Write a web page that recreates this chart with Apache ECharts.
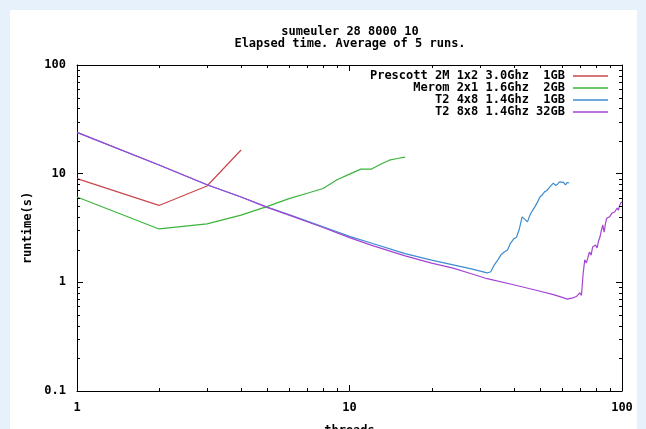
<!DOCTYPE html>
<html><head><meta charset="utf-8">
<script src="https://cdn.jsdelivr.net/npm/echarts@6/dist/echarts.min.js"></script>
<style>html,body{margin:0;padding:0;background:#e7f1fc}#c{width:646px;height:429px}</style>
</head><body><div id="c"></div>
<script>
const FONT = '"DejaVu Sans Mono", "Liberation Mono", monospace';
const titleLines = ['sumeuler 28 8000 10', 'Elapsed time. Average of 5 runs.'];
const xAxisName = 'threads';
const yAxisName = 'runtime(s)';
const seriesNames = ['Prescott 2M 1x2 3.0Ghz  1GB', 'Merom 2x1 1.6Ghz  2GB', 'T2 4x8 1.4Ghz  1GB', 'T2 8x8 1.4Ghz 32GB'];
const seriesColors = ['#c8484c', '#3cb43c', '#3c8cd2', '#a444d4'];

const threadsPrescott = [1, 2, 3, 4];
const runtimePrescott = [9.0, 5.1, 7.7, 16.5];

const threadsMerom = [1, 2, 3, 4, 5, 6, 7, 8, 9, 10, 11, 12, 13, 14, 15, 16];
const runtimeMerom = [6.1, 3.1, 3.45, 4.15, 5.0, 5.9, 6.6, 7.3, 8.8, 9.9, 11.0, 11.0, 12.2, 13.3, 13.8, 14.2];

const threadsT2a = [1, 2, 3, 4, 5, 6, 8, 10, 12, 16, 20, 24, 28, 32, 33, 34, 35, 36, 37, 38, 39, 40, 41, 42, 43, 44, 45, 46, 47, 48, 49, 50, 51, 52, 53, 54, 55, 56, 57, 58, 59, 60, 61, 62, 63, 64];
const runtimeT2a = [24, 12, 7.9, 6.1, 4.9, 4.2, 3.25, 2.65, 2.3, 1.84, 1.6, 1.45, 1.33, 1.22, 1.25, 1.45, 1.6, 1.8, 1.9, 1.98, 2.3, 2.5, 2.6, 3.1, 4.0, 3.8, 3.6, 4.2, 4.6, 5.0, 5.5, 6.1, 6.4, 6.8, 7.0, 7.4, 7.8, 8.2, 7.8, 8.0, 8.4, 8.7, 8.3, 7.9, 8.3, 8.2];

const threadsT2b = [1, 2, 3, 4, 5, 6, 8, 10, 12, 16, 20, 24, 28, 32, 40, 48, 56, 60, 63, 64, 66, 68, 69, 70, 71, 72, 73, 74, 75, 76, 77, 78, 79, 80, 81, 82, 83, 84, 85, 86, 87, 88, 89, 90, 91, 92, 93, 94, 95, 96, 97, 98, 99, 100];
const runtimeT2b = [24, 12, 7.9, 6.1, 4.9, 4.15, 3.2, 2.58, 2.2, 1.75, 1.5, 1.35, 1.2, 1.08, 0.95, 0.85, 0.77, 0.73, 0.70, 0.71, 0.72, 0.74, 0.73, 0.80, 0.76, 1.2, 1.61, 1.51, 1.7, 1.9, 1.78, 2.11, 2.05, 2.2, 2.07, 2.4, 2.61, 3.0, 3.37, 2.9, 3.5, 3.91, 3.8, 4.0, 4.1, 4.35, 4.2, 4.44, 4.3, 4.83, 4.6, 5.1, 5.37, 5.5];

const xMinorTicks = [2, 3, 4, 5, 6, 7, 8, 9, 20, 30, 40, 50, 60, 70, 80, 90];
const yMinorTicks = [0.2, 0.3, 0.4, 0.5, 0.6, 0.7, 0.8, 0.9, 2, 3, 4, 5, 6, 7, 8, 9, 20, 30, 40, 50, 60, 70, 80, 90];
const xRange = [1, 100];
const yRange = [0.1, 100];

(function () {
const xs = [threadsPrescott, threadsMerom, threadsT2a, threadsT2b];
const ys = [runtimePrescott, runtimeMerom, runtimeT2a, runtimeT2b];

const textBase = { fontFamily: FONT, fontWeight: 'bold', fontSize: 12, color: '#000' };

const axisCommon = {
  axisLine: { show: true, lineStyle: { color: '#000', width: 1 } },
  axisTick: { show: true, inside: true, length: 6, lineStyle: { color: '#000', width: 1 } },
  splitLine: { show: false },
  minorTick: { show: false }
};

const series = seriesNames.map((name, i) => ({
  name: name, type: 'line', symbol: 'none', xAxisIndex: 0, yAxisIndex: 0,
  lineStyle: { color: seriesColors[i], width: 1.2 },
  itemStyle: { color: seriesColors[i] },
  data: xs[i].map((x, j) => [x, ys[i][j]]),
  z: 3 + i
}));

const chart = echarts.init(document.getElementById('c'), null, { renderer: 'canvas' });
chart.setOption({
  animation: false,
  backgroundColor: '#e7f1fc',
  graphic: { elements: [
    { id: 'panel', type: 'rect', z: -100, silent: true, shape: { x: 10, y: 10, width: 627, height: 430 }, style: { fill: '#ffffff' } },
    { id: 't1', type: 'text', silent: true, x: 350, y: 32, style: { text: titleLines[0], textAlign: 'center', textVerticalAlign: 'middle', font: 'bold 12px ' + FONT, fill: '#000' } },
    { id: 't2', type: 'text', silent: true, x: 350, y: 44, style: { text: titleLines[1], textAlign: 'center', textVerticalAlign: 'middle', font: 'bold 12px ' + FONT, fill: '#000' } }
  ] },
  grid: { left: 77, right: 24, top: 65, bottom: 38, containLabel: false, outerBoundsMode: 'none' },
  legend: {
    orient: 'vertical', right: 38, top: 70, align: 'right', padding: 0,
    itemWidth: 35, itemHeight: 1.5, itemGap: 0, icon: 'rect',
    textStyle: Object.assign({ lineHeight: 12, padding: [0, 3, 0, 0] }, textBase),
    formatter: n => n.padStart(27, ' '),
    data: seriesNames
  },
  xAxis: [
    Object.assign({}, axisCommon, {
      type: 'log', logBase: 10, min: xRange[0], max: xRange[1], position: 'bottom',
      axisLabel: Object.assign({ margin: 11 }, textBase),
      name: xAxisName, nameLocation: 'middle', nameGap: 34, nameTextStyle: textBase
    }),
    Object.assign({}, axisCommon, {
      type: 'log', logBase: 10, min: xRange[0], max: xRange[1], position: 'top', axisLabel: { show: false }
    })
  ],
  yAxis: [
    Object.assign({}, axisCommon, {
      type: 'log', logBase: 10, min: yRange[0], max: yRange[1], position: 'left',
      axisLabel: Object.assign({ margin: 11 }, textBase),
      name: yAxisName, nameLocation: 'middle', nameGap: 42, nameRotate: 90, nameTextStyle: textBase
    }),
    Object.assign({}, axisCommon, {
      type: 'log', logBase: 10, min: yRange[0], max: yRange[1], position: 'right', axisLabel: { show: false }
    })
  ],
  series: series
});

// Minor ticks at 2..9 of each decade, positioned through the axes' own scales.
const gLeft = chart.convertToPixel({ xAxisIndex: 0 }, xRange[0]);
const gRight = chart.convertToPixel({ xAxisIndex: 0 }, xRange[1]);
const gBottom = chart.convertToPixel({ yAxisIndex: 0 }, yRange[0]);
const gTop = chart.convertToPixel({ yAxisIndex: 0 }, yRange[1]);
const tickEls = [];
const st = { stroke: '#000', lineWidth: 1 };
xMinorTicks.forEach((v, i) => {
  const px = Math.round(chart.convertToPixel({ xAxisIndex: 0 }, v)) + 0.5;
  tickEls.push({ id: 'xb' + i, type: 'line', silent: true, z: 50, shape: { x1: px, y1: gBottom, x2: px, y2: gBottom - 3 }, style: st });
  tickEls.push({ id: 'xt' + i, type: 'line', silent: true, z: 50, shape: { x1: px, y1: gTop, x2: px, y2: gTop + 3 }, style: st });
});
yMinorTicks.forEach((v, i) => {
  const py = Math.round(chart.convertToPixel({ yAxisIndex: 0 }, v)) + 0.5;
  tickEls.push({ id: 'yl' + i, type: 'line', silent: true, z: 50, shape: { x1: gLeft, y1: py, x2: gLeft + 3, y2: py }, style: st });
  tickEls.push({ id: 'yr' + i, type: 'line', silent: true, z: 50, shape: { x1: gRight, y1: py, x2: gRight - 3, y2: py }, style: st });
});
chart.setOption({ graphic: { elements: tickEls } });
})();
</script></body></html>
